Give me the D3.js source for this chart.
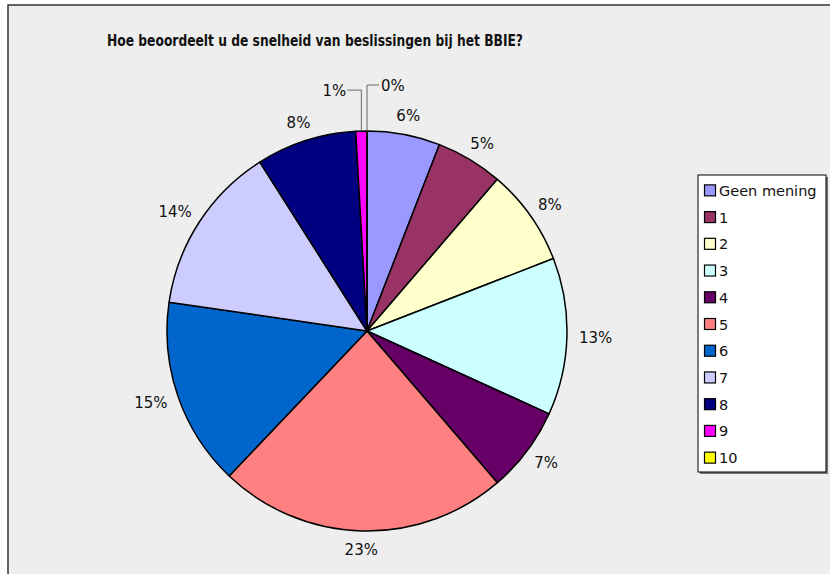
<!DOCTYPE html>
<html>
<head>
<meta charset="utf-8">
<script src="https://cdn.jsdelivr.net/npm/d3@7"></script>
<style>
  body { margin: 0; background: #fff; }
  text { font-family: "DejaVu Sans", Verdana, sans-serif; fill: #111; }
</style>
</head>
<body>
<div id="chart"></div>
<script>
// antwoordcategorieen en aandeel (in %)
var categories = ["Geen mening", "1", "2", "3", "4", "5", "6", "7", "8", "9", "10"];
var shares = [5.9, 5.4, 7.8, 12.7, 6.9, 23.4, 15.2, 13.7, 8.1, 0.9, 0];
var colors = ["#9999FF", "#993366", "#FFFFCC", "#CCFFFF", "#660066", "#FF8080",
              "#0066CC", "#CCCCFF", "#000080", "#FF00FF", "#FFFF00"];
var title = "Hoe beoordeelt u de snelheid van beslissingen bij het BBIE?";

var data = categories.map(function(c, i){ return {name: c, value: shares[i], color: colors[i]}; });
var total = d3.sum(shares);

var width = 830, height = 574;
var cx = 367, cy = 331, radius = 200;

var svg = d3.select("#chart").append("svg")
  .attr("width", width)
  .attr("height", height);

// chart area
svg.append("rect")
  .attr("x", 8).attr("y", 5)
  .attr("width", 840).attr("height", 600)
  .attr("fill", "#EEEEEE")
  .attr("stroke", "#333")
  .attr("stroke-width", 1.5);

// title: tall but condensed, like the original
svg.append("text")
  .attr("x", 315).attr("y", 46)
  .attr("text-anchor", "middle")
  .style("font-weight", "bold")
  .style("font-size", "15px")
  .attr("textLength", 416)
  .attr("lengthAdjust", "spacingAndGlyphs")
  .text(title);

var g = svg.append("g")
  .attr("transform", "translate(" + cx + "," + cy + ")");

var pie = d3.pie().value(function(d){ return d.value; }).sort(null);
var arc = d3.arc().innerRadius(0).outerRadius(radius);
var arcs = pie(data);

g.selectAll("path")
  .data(arcs)
  .enter()
  .append("path")
  .attr("d", arc)
  .attr("fill", function(d){ return d.data.color; })
  .attr("stroke", "#000")
  .attr("stroke-width", 1.5)
  .attr("stroke-linejoin", "round");

// labels
var fontSize = 15, lh = 14;
arcs.forEach(function(d){
  var pct = Math.round(d.data.value / total * 100) + "%";
  var a = (d.startAngle + d.endAngle) / 2;
  var s = Math.sin(a), c = -Math.cos(a);
  var lbl = g.append("text")
    .style("font-size", fontSize + "px")
    .text(pct);
  var w = lbl.node().getComputedTextLength();
  if (d.endAngle - d.startAngle < 0.15) {
    // small slice: leader line up from the rim, then sideways
    var px = radius * s, py = radius * c;
    var left = d.data.value > 0;
    var up = left ? 41 : 46;
    var hx = left ? px - 14 : px + 12;
    g.append("polyline")
      .attr("points", [[px, py], [px, py - up], [hx, py - up]].map(function(p){ return p.join(","); }).join(" "))
      .attr("fill", "none")
      .attr("stroke", "#666")
      .attr("stroke-width", 1);
    lbl.attr("x", left ? hx - 1 : hx + 2)
      .attr("y", py - up + 5.5)
      .attr("text-anchor", left ? "end" : "start");
  } else {
    var r = radius + 12;
    var lx = r * s + (w / 2) * s;
    var ly = r * c + (lh / 2) * c;
    lbl.attr("x", lx).attr("y", ly + 5.5).attr("text-anchor", "middle");
  }
});

// legend
var lg = svg.append("g").attr("transform", "translate(698,175)");
lg.append("rect")
  .attr("x", 2).attr("y", 2)
  .attr("width", 128).attr("height", 297)
  .attr("fill", "#777");
lg.append("rect")
  .attr("width", 128).attr("height", 297)
  .attr("fill", "#fff")
  .attr("stroke", "#000")
  .attr("stroke-width", 1);

var ly = d3.scaleBand().domain(categories).range([2, 296]);
var items = lg.selectAll(".item")
  .data(data)
  .enter()
  .append("g")
  .attr("class", "item")
  .attr("transform", function(d){ return "translate(0," + (ly(d.name) + ly.bandwidth() / 2) + ")"; });
items.append("rect")
  .attr("x", 6.5).attr("y", -5.5)
  .attr("width", 11).attr("height", 11)
  .attr("fill", function(d){ return d.color; })
  .attr("stroke", "#000")
  .attr("stroke-width", 1.2);
items.append("text")
  .attr("x", 21).attr("y", 5.5)
  .style("font-size", "14.5px")
  .text(function(d){ return d.name; });
</script>
</body>
</html>
